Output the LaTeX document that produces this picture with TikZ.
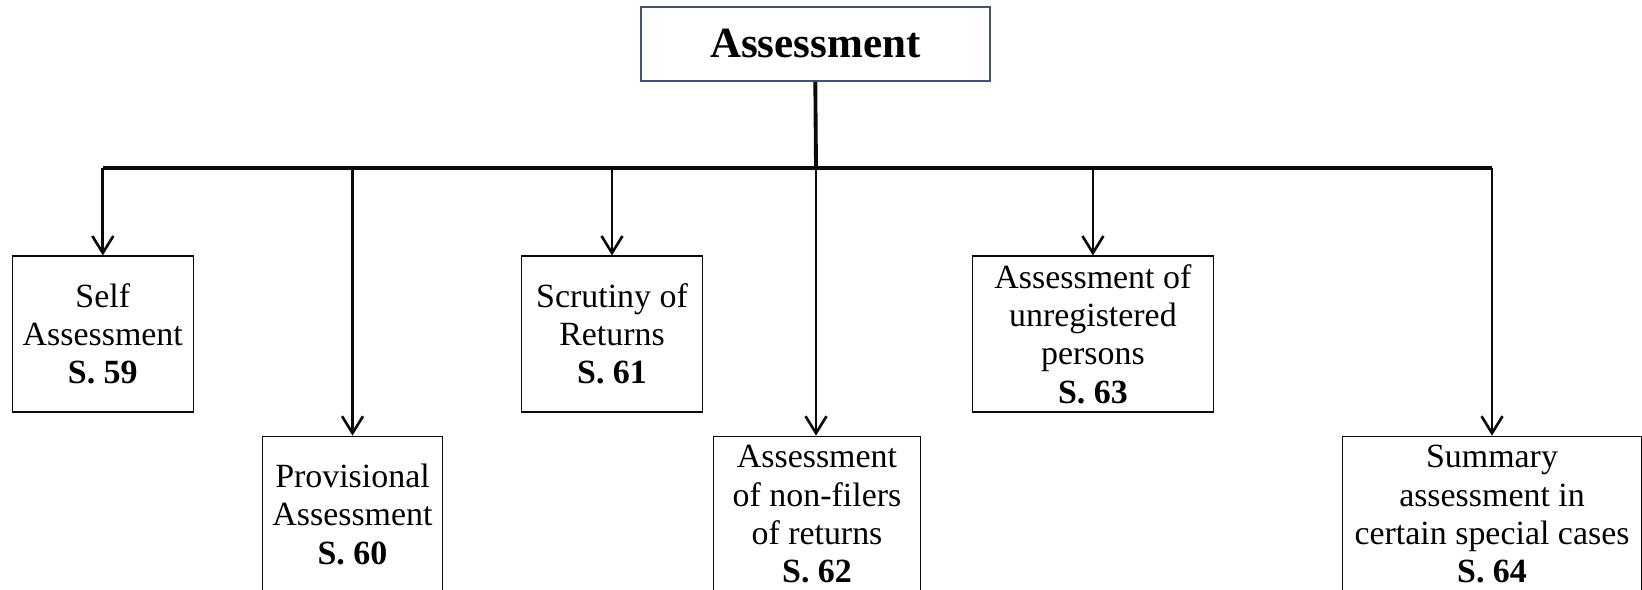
\documentclass[tikz,border=0pt]{standalone}
\usepackage{fontspec}
\setmainfont{Liberation Serif}
\usetikzlibrary{arrows.meta,positioning}
\definecolor{headColor}{RGB}{65,84,112}
\definecolor{lineColor}{RGB}{10,10,10}

\begin{document}
\begin{tikzpicture}[x=0.02cm,y=-0.02cm]
  	\tikzstyle{box} = [rectangle,draw=lineColor,line width=0.6pt,inner sep=0pt,align=center,minimum height=3.12cm,font=\fontsize{19.3}{21.8}\selectfont]
  	\tikzstyle{head} = [rectangle,draw=headColor,line width=1.2pt,inner sep=0pt,minimum width=6.99cm,minimum height=1.47cm,font=\fontsize{24.5}{27}\selectfont\bfseries]
  	\tikzstyle{bus} = [draw=lineColor,line width=2.2pt]
  	\tikzstyle{branch} = [draw=lineColor,line width=1.5pt,->]
  	\tikzset{>={Straight Barb[length=0.34cm,width=0.42cm]}}

    \useasboundingbox (0,0) rectangle (1642,590);
    \clip (0,0) rectangle (1642,590);

    \node [head] (assess) at (815.3,44) {Assessment};

    % upper row
    \node [box, minimum width=3.62cm] (self) at (102.8,334) {Self\\Assessment\\\textbf{S. 59}};
    \node [box, minimum width=3.61cm] (scrut) at (612,334) {Scrutiny of\\Returns\\\textbf{S. 61}};
    \node [box, minimum width=4.83cm] (unreg) at (1092.9,334) {Assessment of\\unregistered\\persons\\\textbf{S. 63}};

    % lower row
    \node [box, minimum width=3.61cm, anchor=north] (prov) at (352.5,435.7) {Provisional\\Assessment\\\textbf{S. 60}};
    \node [box, minimum width=4.15cm, anchor=north] (nonfil) at (817,435.7) {Assessment\\of non-filers\\of returns\\\textbf{S. 62}};
    \node [box, minimum width=6cm, anchor=north] (summ) at (1492,435.7) {Summary\\assessment in\\certain special cases\\\textbf{S. 64}};

    \coordinate (bus) at (816,168);
    \draw [bus] (assess.south) -- (bus);
    \draw [bus, line width=2.8pt] (self.north |- bus) -- (bus);
    \draw [bus] (bus) -- (unreg.north |- bus);
    \draw [bus, line width=1.8pt] (unreg.north |- bus) -- (summ.north |- bus);

    \draw [branch] (self.north |- bus) -- (self.north);
    \draw [branch] (prov.north |- bus) -- (prov.north);
    \draw [branch] (scrut.north |- bus) -- (scrut.north);
    \draw [branch] (bus) -- (nonfil.north -| bus);
    \draw [branch] (unreg.north |- bus) -- (unreg.north);
    \draw [branch] (summ.north |- bus) -- (summ.north);

  \end{tikzpicture}
\end{document}
